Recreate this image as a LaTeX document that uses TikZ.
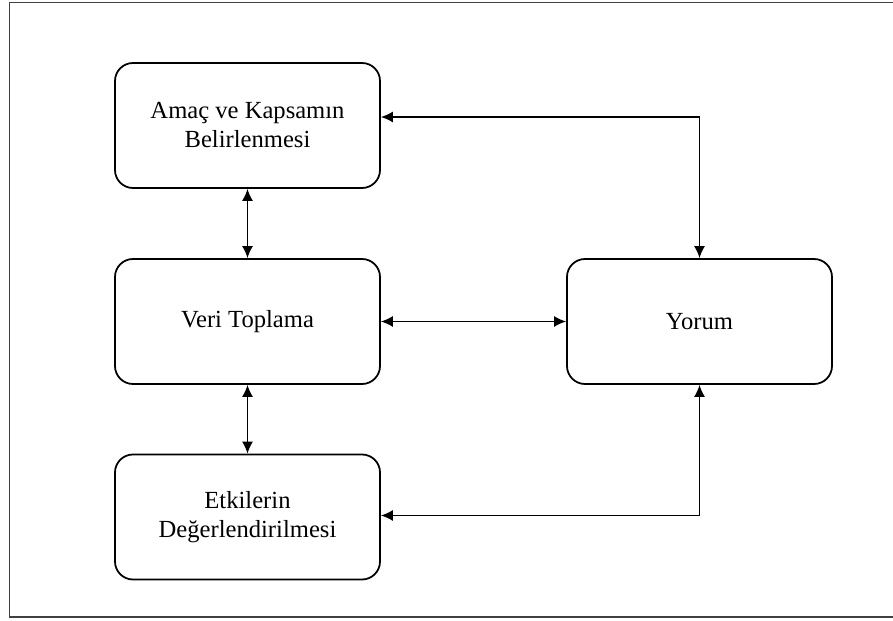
\documentclass[tikz,border=0pt]{standalone}
\usepackage{fontspec}
\setmainfont{Liberation Serif}
\usetikzlibrary{arrows.meta}

\tikzset{
	stagebox/.style={draw, line width=1pt, rounded corners=0.36cm, minimum width=5.3cm, minimum height=2.5cm, align=center, font=\fontsize{14}{16.5}\selectfont},
	link/.style={line width=0.9pt, {Latex[length=2.4mm,width=2.2mm]}-{Latex[length=2.4mm,width=2.2mm]}}
}

\begin{document}
\begin{tikzpicture}
	\useasboundingbox (0,0) rectangle (17.86,-12.42);
	% frame (right side cut off)
	\draw[line width=0.6pt, black!75] (17.86,-0.05) -- (0.19,-0.05) -- (0.19,-12.34) -- (17.86,-12.34);
	
	\node[stagebox] (amac) at (4.95,-2.51) {Amaç ve Kapsamın\\Belirlenmesi};
	\node[stagebox] (veri) at (4.95,-6.43) {Veri Toplama};
	\node[stagebox] (etki) at (4.95,-10.34) {Etkilerin\\Değerlendirilmesi};
	\node[stagebox] (yorum) at (13.99,-6.43) {Yorum};
	
	\draw[link] (amac.south) -- (veri.north);
	\draw[link] (veri.south) -- (etki.north);
	\draw[link] (veri.east) -- (yorum.west);
	\draw[link] ([yshift=0.17cm]amac.east) -| (yorum.north);
	\draw[link] ([yshift=0.03cm]etki.east) -| (yorum.south);
	
\end{tikzpicture}
\end{document}
